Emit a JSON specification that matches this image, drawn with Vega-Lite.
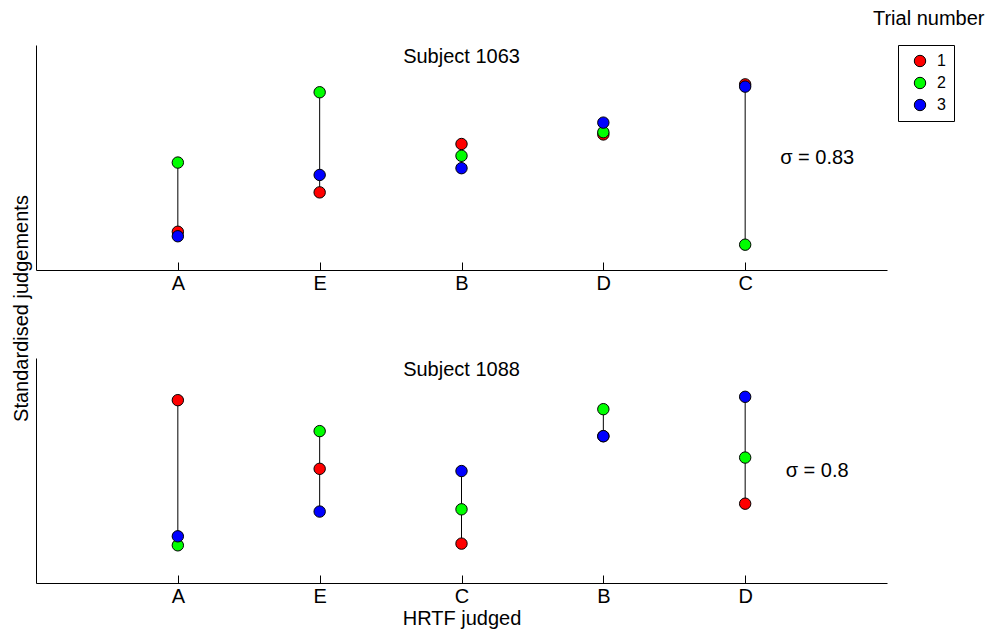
{
  "$schema": "https://vega.github.io/schema/vega-lite/v6.json",
  "background": "white",
  "padding": {"left": 11, "top": 8, "right": 5, "bottom": 5},
  "bounds": "flush",
  "spacing": 88,
  "title": {
    "text": "Trial number",
    "anchor": "end",
    "frame": "bounds",
    "fontSize": 20,
    "fontWeight": "normal",
    "color": "black",
    "dx": 30,
    "offset": 16
  },
  "config": {
    "font": "Liberation Sans",
    "view": {"stroke": null},
    "axis": {
      "grid": false,
      "domainColor": "black",
      "domainWidth": 1,
      "tickColor": "black",
      "tickWidth": 1,
      "labelColor": "black",
      "labelFontSize": 20,
      "titleColor": "black",
      "titleFontSize": 20,
      "titleFontWeight": "normal"
    },
    "legend": {
      "strokeColor": "black",
      "fillColor": "white",
      "cornerRadius": 0,
      "padding": 8,
      "offset": 11,
      "symbolType": "circle",
      "symbolSize": 130,
      "symbolOpacity": 1,
      "symbolStrokeColor": "black",
      "symbolStrokeWidth": 1,
      "symbolOffset": 6,
      "labelFontSize": 16,
      "labelColor": "black",
      "labelOffset": 9,
      "rowPadding": 6
    },
    "title": {"fontWeight": "normal", "color": "black"}
  },
  "datasets": {
    "judgements": [
      {"subject": 1063, "hrtf": "A", "trial": 1, "value": -1.32},
      {"subject": 1063, "hrtf": "E", "trial": 1, "value": -0.62},
      {"subject": 1063, "hrtf": "B", "trial": 1, "value": 0.24},
      {"subject": 1063, "hrtf": "D", "trial": 1, "value": 0.41},
      {"subject": 1063, "hrtf": "C", "trial": 1, "value": 1.30},
      {"subject": 1063, "hrtf": "A", "trial": 2, "value": -0.09},
      {"subject": 1063, "hrtf": "E", "trial": 2, "value": 1.16},
      {"subject": 1063, "hrtf": "B", "trial": 2, "value": 0.03},
      {"subject": 1063, "hrtf": "D", "trial": 2, "value": 0.45},
      {"subject": 1063, "hrtf": "C", "trial": 2, "value": -1.55},
      {"subject": 1063, "hrtf": "A", "trial": 3, "value": -1.40},
      {"subject": 1063, "hrtf": "E", "trial": 3, "value": -0.31},
      {"subject": 1063, "hrtf": "B", "trial": 3, "value": -0.19},
      {"subject": 1063, "hrtf": "D", "trial": 3, "value": 0.62},
      {"subject": 1063, "hrtf": "C", "trial": 3, "value": 1.26},
      {"subject": 1088, "hrtf": "A", "trial": 1, "value": 1.25},
      {"subject": 1088, "hrtf": "E", "trial": 1, "value": 0.03},
      {"subject": 1088, "hrtf": "C", "trial": 1, "value": -1.30},
      {"subject": 1088, "hrtf": "B", "trial": 1, "value": 0.61},
      {"subject": 1088, "hrtf": "D", "trial": 1, "value": -0.59},
      {"subject": 1088, "hrtf": "A", "trial": 2, "value": -1.33},
      {"subject": 1088, "hrtf": "E", "trial": 2, "value": 0.70},
      {"subject": 1088, "hrtf": "C", "trial": 2, "value": -0.69},
      {"subject": 1088, "hrtf": "B", "trial": 2, "value": 1.09},
      {"subject": 1088, "hrtf": "D", "trial": 2, "value": 0.23},
      {"subject": 1088, "hrtf": "A", "trial": 3, "value": -1.17},
      {"subject": 1088, "hrtf": "E", "trial": 3, "value": -0.73},
      {"subject": 1088, "hrtf": "C", "trial": 3, "value": -0.01},
      {"subject": 1088, "hrtf": "B", "trial": 3, "value": 0.61},
      {"subject": 1088, "hrtf": "D", "trial": 3, "value": 1.31}
    ],
    "spread": [
      {"subject": 1063, "hrtf": "C", "value": 0, "label": "σ = 0.83"},
      {"subject": 1088, "hrtf": "D", "value": 0, "label": "σ = 0.8"}
    ],
    "headings": [
      {"subject": 1063, "hrtf": "B", "value": 2, "label": "Subject 1063"},
      {"subject": 1088, "hrtf": "C", "value": 2, "label": "Subject 1088"}
    ]
  },
  "vconcat": [
    {
      "width": 851,
      "height": 225,
      "encoding": {
        "x": {
          "field": "hrtf",
          "type": "nominal",
          "sort": ["A", "E", "B", "D", "C"],
          "scale": {"type": "point", "padding": 1},
          "axis": {"title": null, "labelAngle": 0, "tickSize": -8, "labelPadding": 11}
        }
      },
      "layer": [
        {
          "data": {"name": "judgements"},
          "transform": [{"filter": "datum.subject == 1063"}],
          "mark": {"type": "rule", "color": "black", "strokeWidth": 1},
          "encoding": {
            "y": {
              "field": "value",
              "type": "quantitative",
              "aggregate": "min",
              "scale": {"domain": [-2, 2]},
              "axis": {"title": "Standardised judgements", "ticks": false, "labels": false, "titleY": 263, "titlePadding": 5}
            },
            "y2": {"field": "value", "aggregate": "max"}
          }
        },
        {
          "data": {"name": "judgements"},
          "transform": [{"filter": "datum.subject == 1063"}],
          "mark": {"type": "circle", "size": 130, "opacity": 1, "stroke": "black", "strokeWidth": 1},
          "encoding": {
            "y": {"field": "value", "type": "quantitative", "scale": {"domain": [-2, 2]}},
            "color": {
              "field": "trial",
              "type": "nominal",
              "scale": {"domain": [1, 2, 3], "range": ["#ff0000", "#00ff00", "#0000ff"]},
              "legend": {"title": null}
            }
          }
        },
        {
          "data": {"name": "spread"},
          "transform": [{"filter": "datum.subject == 1063"}],
          "mark": {"type": "text", "fontSize": 20, "color": "black", "align": "center", "baseline": "middle", "dx": 72},
          "encoding": {
            "y": {"field": "value", "type": "quantitative", "scale": {"domain": [-2, 2]}},
            "text": {"field": "label"}
          }
        },
        {
          "data": {"name": "headings"},
          "transform": [{"filter": "datum.subject == 1063"}],
          "mark": {"type": "text", "fontSize": 20, "color": "black", "align": "center", "baseline": "alphabetic", "dy": 18},
          "encoding": {
            "y": {"field": "value", "type": "quantitative", "scale": {"domain": [-2, 2]}},
            "text": {"field": "label"}
          }
        }
      ]
    },
    {
      "width": 851,
      "height": 225,
      "encoding": {
        "x": {
          "field": "hrtf",
          "type": "nominal",
          "sort": ["A", "E", "C", "B", "D"],
          "scale": {"type": "point", "padding": 1},
          "axis": {"title": "HRTF judged", "labelAngle": 0, "tickSize": -8, "labelPadding": 11, "titlePadding": 2}
        }
      },
      "layer": [
        {
          "data": {"name": "judgements"},
          "transform": [{"filter": "datum.subject == 1088"}],
          "mark": {"type": "rule", "color": "black", "strokeWidth": 1},
          "encoding": {
            "y": {
              "field": "value",
              "type": "quantitative",
              "aggregate": "min",
              "scale": {"domain": [-2, 2]},
              "axis": {"title": null, "ticks": false, "labels": false}
            },
            "y2": {"field": "value", "aggregate": "max"}
          }
        },
        {
          "data": {"name": "judgements"},
          "transform": [{"filter": "datum.subject == 1088"}],
          "mark": {"type": "circle", "size": 130, "opacity": 1, "stroke": "black", "strokeWidth": 1},
          "encoding": {
            "y": {"field": "value", "type": "quantitative", "scale": {"domain": [-2, 2]}},
            "color": {
              "field": "trial",
              "type": "nominal",
              "scale": {"domain": [1, 2, 3], "range": ["#ff0000", "#00ff00", "#0000ff"]},
              "legend": {"title": null}
            }
          }
        },
        {
          "data": {"name": "spread"},
          "transform": [{"filter": "datum.subject == 1088"}],
          "mark": {"type": "text", "fontSize": 20, "color": "black", "align": "center", "baseline": "middle", "dx": 72},
          "encoding": {
            "y": {"field": "value", "type": "quantitative", "scale": {"domain": [-2, 2]}},
            "text": {"field": "label"}
          }
        },
        {
          "data": {"name": "headings"},
          "transform": [{"filter": "datum.subject == 1088"}],
          "mark": {"type": "text", "fontSize": 20, "color": "black", "align": "center", "baseline": "alphabetic", "dy": 18},
          "encoding": {
            "y": {"field": "value", "type": "quantitative", "scale": {"domain": [-2, 2]}},
            "text": {"field": "label"}
          }
        }
      ]
    }
  ]
}
